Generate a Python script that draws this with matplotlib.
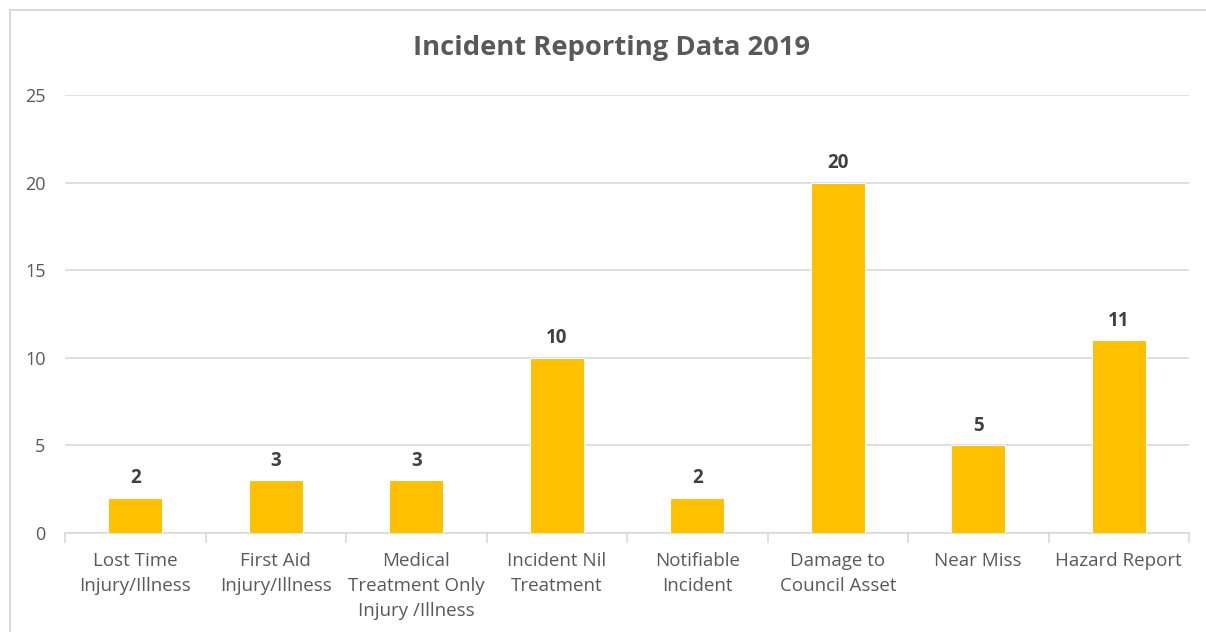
import matplotlib
matplotlib.use("Agg")
import matplotlib.pyplot as plt
from matplotlib.patches import Rectangle
import numpy as np

plt.rcParams['font.family'] = ['Open Sans', 'DejaVu Sans']

categories = [
    "Lost Time\nInjury/Illness",
    "First Aid\nInjury/Illness",
    "Medical\nTreatment Only\nInjury /Illness",
    "Incident Nil\nTreatment",
    "Notifiable\nIncident",
    "Damage to\nCouncil Asset",
    "Near Miss",
    "Hazard Report",
]
counts = [2, 3, 3, 10, 2, 20, 5, 11]
y_ticks = [0, 5, 10, 15, 20, 25]
title = "Incident Reporting Data 2019"

bar_color = "#FFC000"
grid_color = "#D9D9D9"
text_color = "#595959"
label_color = "#404040"

fig = plt.figure(figsize=(12.06, 6.32), dpi=100)

# chart area border
fig.patches.append(Rectangle((10 / 1206, -0.05), 1.2, 1 - 10 / 632 + 0.05,
                             transform=fig.transFigure, fill=False,
                             edgecolor="#D9D9D9", linewidth=1.5))

ax = fig.add_axes([65 / 1206, 1 - 533 / 632, (1189 - 65) / 1206, (533 - 95) / 632])
x = np.arange(len(categories))
ax.bar(x, counts, width=0.385, color=bar_color, edgecolor="white", linewidth=0.8, zorder=3)

ax.set_xlim(-0.5, len(categories) - 0.5)
ax.set_ylim(0, 25)
ax.set_yticks(y_ticks)
ax.set_yticklabels([str(t) for t in y_ticks], color=text_color, fontsize=13)
ax.tick_params(axis="y", length=0, pad=14)
ax.yaxis.grid(True, color=grid_color, linewidth=1.2, zorder=0)
ax.set_axisbelow(True)

for s in ["top", "right", "left"]:
    ax.spines[s].set_visible(False)
ax.spines["bottom"].set_color(grid_color)
ax.spines["bottom"].set_linewidth(1.2)

# category separators below the axis
ax.set_xticks(np.arange(-0.5, len(categories)), minor=False)
ax.set_xticklabels([])
ax.tick_params(axis="x", which="major", length=7, color=grid_color, width=1.2)
ax.set_xticks(x, minor=True)
ax.set_xticklabels(categories, minor=True, color=text_color, fontsize=13.5,
                   linespacing=1.5, va="top")
ax.tick_params(axis="x", which="minor", length=0, pad=14)

for xi, v in zip(x, counts):
    ax.annotate(str(v), (xi, v), xytext=(0, 7), textcoords="offset points",
                ha="center", va="bottom", fontsize=13.5, fontweight="bold",
                color=label_color)

fig.text(612 / 1206, 1 - 48 / 632, title, ha="center", va="center",
         fontsize=19.7, fontweight="bold", color=text_color)

fig.savefig("out.png", dpi=100)
